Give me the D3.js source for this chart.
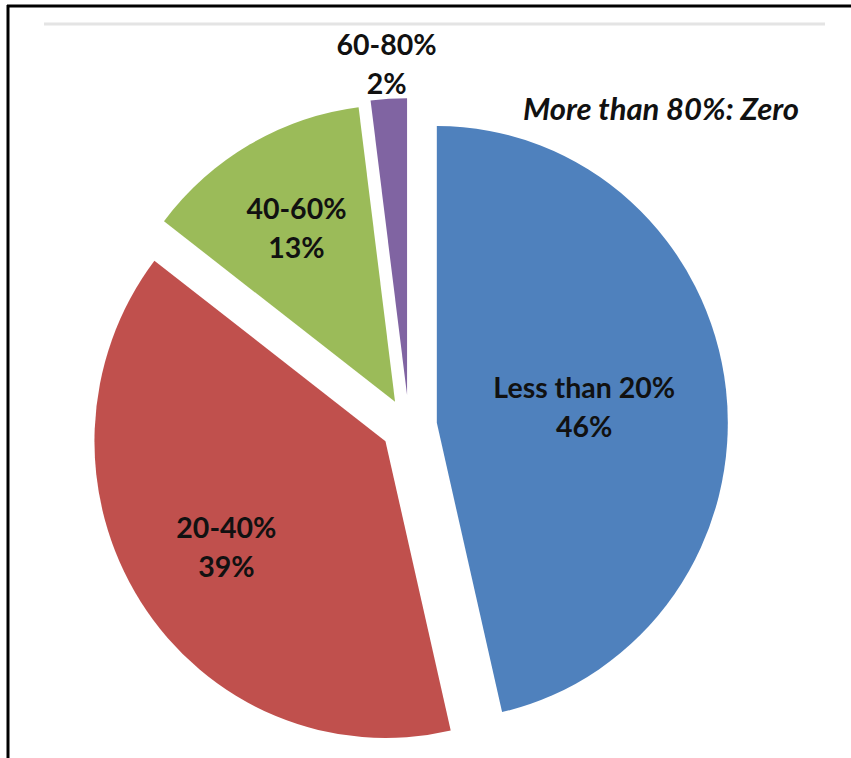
<!DOCTYPE html>
<html>
<head>
<meta charset="utf-8">
<script src="https://cdn.jsdelivr.net/npm/d3@7"></script>
<style>
  html, body { margin: 0; padding: 0; background: #fff; }
  svg { display: block; }
  text { font-family: Lato, "Open Sans", sans-serif; }
</style>
</head>
<body>
<svg id="chart" width="851" height="758"></svg>
<script>
// ---- data ----
const categories = ["Less than 20%", "20-40%", "40-60%", "60-80%"];
const values = [46.4, 39.0, 12.6, 2.0];
const pctLabels = ["46%", "39%", "13%", "2%"];
const colors = ["#4F81BD", "#C0504D", "#9BBB59", "#8064A2"];
const note = "More than 80%: Zero";

// ---- layout ----
const W = 851, H = 758;
const cx = 409, cy = 426;
const R = 291, sy = 1.02;
const explode = [28, 28, 28, 31];
const labelR = [0.51, 0.65, 0.68, 1.12];

const svg = d3.select("#chart");

// frame
svg.append("line").attr("x1", 7).attr("x2", W).attr("y1", 6).attr("y2", 6)
  .attr("stroke", "#000").attr("stroke-width", 3);
svg.append("line").attr("x1", 8).attr("x2", 8).attr("y1", 5).attr("y2", H)
  .attr("stroke", "#000").attr("stroke-width", 3);
svg.append("line").attr("x1", 44).attr("x2", 825).attr("y1", 24).attr("y2", 24)
  .attr("stroke", "#e4e4e4").attr("stroke-width", 3);

const pie = d3.pie().sort(null).value(d => d).startAngle(0).endAngle(2 * Math.PI);
const arcs = pie(values);
const arc = d3.arc().innerRadius(0).outerRadius(R);

const g = svg.append("g").attr("transform", `translate(${cx},${cy})`);

arcs.forEach((a, i) => {
  const mid = (a.startAngle + a.endAngle) / 2;
  const ox = explode[i] * Math.sin(mid);
  const oy = -explode[i] * Math.cos(mid);
  g.append("path")
    .attr("d", arc(a))
    .attr("fill", colors[i])
    .attr("transform", `translate(${ox},${oy}) scale(1,${sy})`);

  const lr = labelR[i] * R;
  const lx = ox + lr * Math.sin(mid);
  const ly = oy - lr * Math.cos(mid) * sy;
  const t = g.append("text")
    .attr("text-anchor", "middle")
    .attr("font-weight", "bold")
    .attr("font-size", 28.5)
    .attr("fill", "#111");
  t.append("tspan").attr("x", lx).attr("y", ly - 19).attr("dominant-baseline", "central").text(categories[i]);
  t.append("tspan").attr("x", lx).attr("y", ly + 20).attr("dominant-baseline", "central").text(pctLabels[i]);
});

svg.append("text")
  .attr("x", 661).attr("y", 108)
  .attr("text-anchor", "middle")
  .attr("dominant-baseline", "central")
  .attr("font-weight", "bold")
  .attr("font-style", "italic")
  .attr("font-size", 31)
  .attr("fill", "#111")
  .text(note);
</script>
</body>
</html>
